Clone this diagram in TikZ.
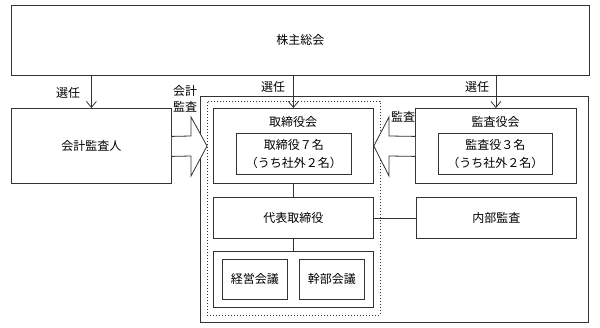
\documentclass[tikz,border=0pt]{standalone}
\usepackage{fontspec}
\setmainfont{Noto Sans CJK JP}
\usetikzlibrary{arrows.meta,calc}
\begin{document}
\begin{tikzpicture}[x=1pt,y=-1pt,
 box/.style={draw=black!80,line width=0.8pt,inner sep=0pt,anchor=north west,font=\fontsize{12}{18}\selectfont,align=center},
 lbl/.style={font=\fontsize{12}{16}\selectfont,inner sep=0pt,align=center},
 sel/.style={-{Straight Barb[length=6pt,width=10pt]},draw=black!80,line width=0.8pt},
 ln/.style={draw=black!80,line width=0.8pt},
 blk/.style={draw=black!80,fill=white,line width=0.8pt,line join=miter}]
\useasboundingbox (0,0) rectangle (600,327);
% boxes
\node[box,minimum width=578,minimum height=70] (soukai) at (11,5) {株主総会};
\node[box,minimum width=160,minimum height=75] (kansanin) at (11,108) {会計監査人};
\node[box,minimum width=388,minimum height=226] (outer) at (200,96) {};
\node[box,minimum width=173,minimum height=214,dash pattern=on 1pt off 2pt] (dotted) at (207,101) {};
\node[box,minimum width=160,minimum height=75] (torishimari) at (213,108) {};
\node[lbl] (torihead) at (293,122) {取締役会};
\node[box,minimum width=115,minimum height=41] (torin) at (236,133) {取締役７名\\（うち社外２名）};
\node[box,minimum width=161,minimum height=75] (kansayaku) at (415,108) {};
\node[lbl] (kansahead) at (495.5,122) {監査役会};
\node[box,minimum width=114,minimum height=41] (kansain) at (438,133) {監査役３名\\（うち社外２名）};
\node[box,minimum width=160,minimum height=41] (daihyo) at (213,197) {代表取締役};
\node[box,minimum width=160,minimum height=41] (naibu) at (416,197) {内部監査};
\node[box,minimum width=160,minimum height=56] (kaigi) at (213,251) {};
\node[box,minimum width=65,minimum height=40] (keiei) at (222,259) {経営会議};
\node[box,minimum width=65,minimum height=40] (kanbu) at (299,259) {幹部会議};
% election arrows
\draw[sel] (kansanin.north |- soukai.south) -- (kansanin.north);
\draw[sel] (soukai.south -| torishimari.north) -- (torishimari.north);
\draw[sel] (soukai.south -| kansayaku.north) -- (kansayaku.north);
\node[lbl] (sen1) at (68,93) {選任};
\node[lbl] (sen2) at (273,87) {選任};
\node[lbl] (sen3) at (477,87) {選任};
% lines
\draw[ln] (torishimari.south) -- (daihyo.north);
\draw[ln] (daihyo.south) -- (kaigi.north);
\draw[ln] (daihyo.east) -- (naibu.west);
% block arrows
\draw[blk] ($(kansanin.east)+(0,-9.5)$) -- (191,136) -- (191,117) -- (dotted.west |- 0,146) -- (191,176) -- (191,156) -- ($(kansanin.east)+(0,10.5)$);
\draw[blk] ($(kansayaku.west)+(0,-9.5)$) -- (389,136) -- (389,117) -- (torishimari.east |- 0,146) -- (389,176) -- (389,156) -- ($(kansayaku.west)+(0,10.5)$);
\node[lbl] (kaikeikansa) at (185,99) {会計\\監査};
\node[lbl] (kansa) at (403,117) {監査};
\end{tikzpicture}
\end{document}
